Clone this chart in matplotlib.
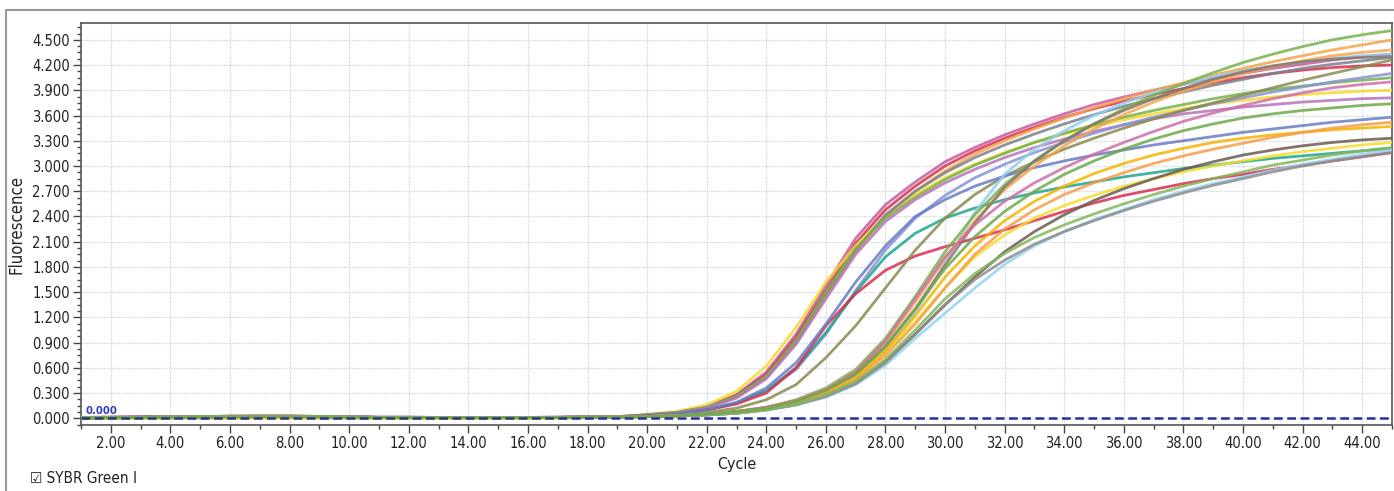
import matplotlib
matplotlib.use('Agg')
import matplotlib.pyplot as plt
from matplotlib.ticker import MultipleLocator, FormatStrFormatter
from matplotlib.patches import Rectangle

plt.rcParams['font.family'] = ['DejaVu Sans']
plt.rcParams['font.stretch'] = 'condensed'

# cycles 1..45
cycles = list(range(1, 46))

# baseline readings, cycles 1..19
base_a = [0.010, 0.012, 0.015, 0.020, 0.020, 0.024, 0.025, 0.025, 0.022, 0.016,
          0.012, 0.012, 0.010, 0.010, 0.010, 0.010, 0.012, 0.015, 0.020]
base_b = [0.006, 0.008, 0.010, 0.014, 0.016, 0.018, 0.020, 0.020, 0.018, 0.012,
          0.010, 0.008, 0.008, 0.008, 0.008, 0.008, 0.010, 0.012, 0.015]
base_y = [0.000, 0.000, 0.002, 0.004, 0.004, 0.005, 0.006, 0.006, 0.005, 0.003,
          0.002, 0.002, 0.002, 0.002, 0.002, 0.002, 0.004, 0.006, 0.010]

# amplification readings, cycles 20..45  (name, colour, baseline, values)
curves = [
    # early group
    ('A1', '#c65aa2', base_a, [0.04, 0.07, 0.14, 0.28, 0.55, 1.00, 1.58, 2.14, 2.54, 2.81, 3.05, 3.22, 3.37,
                               3.50, 3.62, 3.73, 3.82, 3.90, 3.97, 4.04, 4.10, 4.16, 4.21, 4.26, 4.30, 4.33]),
    ('A2', '#d8304c', base_a, [0.04, 0.07, 0.13, 0.27, 0.52, 0.96, 1.52, 2.08, 2.48, 2.76, 3.00, 3.18, 3.33,
                               3.46, 3.58, 3.68, 3.77, 3.85, 3.92, 3.99, 4.05, 4.10, 4.14, 4.17, 4.19, 4.20]),
    ('A3', '#f6d92c', base_y, [0.05, 0.08, 0.16, 0.32, 0.62, 1.08, 1.62, 2.05, 2.40, 2.66, 2.86, 3.02, 3.16,
                               3.28, 3.38, 3.47, 3.55, 3.62, 3.68, 3.74, 3.78, 3.82, 3.85, 3.87, 3.89, 3.90]),
    ('A4', '#f5a24c', base_a, [0.04, 0.07, 0.13, 0.25, 0.48, 0.90, 1.45, 1.98, 2.40, 2.70, 2.94, 3.14, 3.30,
                               3.44, 3.57, 3.69, 3.80, 3.90, 3.99, 4.08, 4.16, 4.24, 4.31, 4.38, 4.44, 4.50]),
    ('A5', '#7d7f8c', base_b, [0.04, 0.07, 0.13, 0.26, 0.50, 0.92, 1.48, 2.00, 2.42, 2.70, 2.92, 3.10, 3.25,
                               3.38, 3.50, 3.61, 3.71, 3.80, 3.88, 3.96, 4.03, 4.10, 4.16, 4.21, 4.25, 4.29]),
    ('A6', '#76b24a', base_b, [0.04, 0.07, 0.13, 0.26, 0.50, 0.93, 1.50, 2.02, 2.38, 2.63, 2.84, 3.01, 3.15,
                               3.28, 3.39, 3.49, 3.58, 3.66, 3.73, 3.80, 3.86, 3.91, 3.95, 3.99, 4.02, 4.05]),
    ('A7', '#b872bb', base_b, [0.04, 0.06, 0.12, 0.24, 0.47, 0.88, 1.42, 1.95, 2.34, 2.60, 2.80, 2.96, 3.10,
                               3.22, 3.32, 3.41, 3.49, 3.56, 3.62, 3.66, 3.70, 3.73, 3.76, 3.78, 3.80, 3.81]),
    # middle group
    ('B1', '#8793d4', base_a, [0.03, 0.05, 0.10, 0.18, 0.33, 0.58, 1.00, 1.52, 2.00, 2.38, 2.65, 2.86, 3.02,
                               3.16, 3.28, 3.39, 3.49, 3.58, 3.66, 3.74, 3.81, 3.88, 3.94, 4.00, 4.05, 4.10]),
    ('B2', '#1fa68f', base_b, [0.03, 0.05, 0.10, 0.18, 0.33, 0.60, 1.02, 1.50, 1.92, 2.20, 2.38, 2.50, 2.60,
                               2.68, 2.75, 2.81, 2.87, 2.92, 2.97, 3.01, 3.05, 3.09, 3.12, 3.15, 3.18, 3.21]),
    ('B3', '#d92f50', base_a, [0.03, 0.05, 0.10, 0.17, 0.30, 0.60, 1.10, 1.48, 1.76, 1.93, 2.04, 2.14, 2.24,
                               2.35, 2.46, 2.56, 2.65, 2.72, 2.79, 2.85, 2.90, 2.96, 3.01, 3.06, 3.11, 3.16]),
    ('B4', '#8c8a50', base_b, [0.02, 0.04, 0.07, 0.12, 0.22, 0.40, 0.72, 1.10, 1.55, 2.00, 2.38, 2.66, 2.88,
                               3.05, 3.20, 3.33, 3.45, 3.56, 3.66, 3.75, 3.84, 3.93, 4.02, 4.10, 4.18, 4.26]),
    ('B5', '#6a7cc6', base_b, [0.03, 0.05, 0.10, 0.19, 0.36, 0.66, 1.12, 1.62, 2.05, 2.40, 2.60, 2.76, 2.88,
                               2.98, 3.06, 3.13, 3.19, 3.25, 3.30, 3.35, 3.40, 3.44, 3.48, 3.52, 3.55, 3.58]),
    # late group
    ('C1', '#90d0f0', base_b, [0.02, 0.03, 0.05, 0.08, 0.13, 0.20, 0.32, 0.50, 0.80, 1.25, 1.85, 2.45, 2.90,
                               3.20, 3.42, 3.60, 3.75, 3.87, 3.97, 4.06, 4.13, 4.19, 4.24, 4.28, 4.31, 4.33]),
    ('C2', '#78b44a', base_b, [0.02, 0.03, 0.05, 0.08, 0.13, 0.22, 0.36, 0.58, 0.95, 1.45, 1.98, 2.42, 2.78,
                               3.06, 3.30, 3.50, 3.68, 3.84, 3.98, 4.11, 4.23, 4.33, 4.42, 4.50, 4.56, 4.61]),
    ('C3', '#f7a650', base_b, [0.02, 0.03, 0.05, 0.08, 0.13, 0.21, 0.34, 0.55, 0.90, 1.38, 1.90, 2.35, 2.72,
                               3.00, 3.24, 3.44, 3.61, 3.76, 3.89, 4.00, 4.10, 4.18, 4.25, 4.31, 4.35, 4.38]),
    ('C4', '#857868', base_b, [0.02, 0.03, 0.05, 0.08, 0.12, 0.20, 0.32, 0.52, 0.85, 1.30, 1.82, 2.32, 2.75,
                               3.06, 3.30, 3.50, 3.66, 3.80, 3.92, 4.03, 4.12, 4.19, 4.24, 4.27, 4.29, 4.30]),
    ('C5', '#cf6ea8', base_b, [0.02, 0.03, 0.05, 0.08, 0.13, 0.21, 0.34, 0.55, 0.92, 1.42, 1.92, 2.30, 2.58,
                               2.80, 2.98, 3.14, 3.28, 3.41, 3.53, 3.63, 3.72, 3.80, 3.87, 3.93, 3.97, 4.00]),
    ('C6', '#f5dc30', base_y, [0.02, 0.03, 0.04, 0.07, 0.11, 0.18, 0.30, 0.48, 0.78, 1.15, 1.55, 1.92, 2.18,
                               2.38, 2.53, 2.65, 2.76, 2.85, 2.93, 3.00, 3.06, 3.12, 3.17, 3.21, 3.25, 3.28]),
    ('C7', '#f6b400', base_y, [0.02, 0.03, 0.04, 0.07, 0.11, 0.18, 0.30, 0.48, 0.80, 1.22, 1.68, 2.05, 2.35,
                               2.58, 2.76, 2.91, 3.03, 3.13, 3.21, 3.28, 3.33, 3.37, 3.40, 3.43, 3.45, 3.47]),
    ('C8', '#f59e48', base_b, [0.02, 0.03, 0.04, 0.07, 0.11, 0.18, 0.29, 0.46, 0.75, 1.12, 1.55, 1.95, 2.25,
                               2.48, 2.66, 2.80, 2.92, 3.03, 3.12, 3.20, 3.27, 3.34, 3.40, 3.45, 3.49, 3.52]),
    ('C9', '#6b5b52', base_b, [0.02, 0.03, 0.04, 0.06, 0.10, 0.16, 0.26, 0.42, 0.68, 1.00, 1.35, 1.68, 1.98,
                               2.22, 2.42, 2.59, 2.73, 2.85, 2.96, 3.05, 3.13, 3.19, 3.24, 3.28, 3.31, 3.33]),
    ('C10', '#94d3f0', base_b, [0.02, 0.03, 0.04, 0.06, 0.10, 0.16, 0.25, 0.40, 0.63, 0.95, 1.25, 1.55, 1.83,
                                2.05, 2.22, 2.36, 2.48, 2.60, 2.70, 2.79, 2.87, 2.95, 3.02, 3.08, 3.14, 3.19]),
    ('C11', '#8e8e8e', base_b, [0.02, 0.03, 0.04, 0.06, 0.10, 0.16, 0.26, 0.41, 0.66, 1.00, 1.35, 1.65, 1.88,
                                2.07, 2.22, 2.35, 2.47, 2.58, 2.68, 2.77, 2.85, 2.93, 3.00, 3.06, 3.11, 3.16]),
    ('C12', '#86b85a', base_b, [0.02, 0.03, 0.04, 0.06, 0.10, 0.17, 0.28, 0.44, 0.70, 1.05, 1.42, 1.72, 1.96,
                                2.15, 2.30, 2.43, 2.55, 2.66, 2.76, 2.85, 2.93, 3.01, 3.07, 3.13, 3.18, 3.22]),
    ('C13', '#6fa84a', base_b, [0.02, 0.03, 0.05, 0.08, 0.12, 0.20, 0.33, 0.53, 0.86, 1.30, 1.78, 2.16, 2.46,
                                2.70, 2.90, 3.06, 3.20, 3.32, 3.42, 3.50, 3.57, 3.62, 3.66, 3.69, 3.72, 3.74]),
]

threshold = 0.0

fig = plt.figure(figsize=(13.94, 4.91), dpi=100)
ax = fig.add_axes([81 / 1394, 1 - 425 / 491, (1392 - 81) / 1394, (425 - 23) / 491])

for name, color, base, vals in curves:
    ax.plot(cycles, base + vals, color=color, lw=2.0, alpha=0.85, solid_joinstyle='round', zorder=3)

ax.axhline(threshold, color='#2b2f9c', lw=1.8, ls=(0, (3.5, 1.8)), zorder=5)
ax.text(1.15, threshold + 0.03, '%.3f' % threshold, color='#2b3fbf', fontsize=8,
        fontweight='bold', va='bottom', ha='left', zorder=6)

ax.set_xlim(1, 45)
ax.set_ylim(-0.08, 4.70)

ax.xaxis.set_major_locator(MultipleLocator(2))
ax.xaxis.set_minor_locator(MultipleLocator(1))
ax.xaxis.set_major_formatter(FormatStrFormatter('%.2f'))
ax.set_xticks([x for x in range(2, 45, 2)])
ax.yaxis.set_major_locator(MultipleLocator(0.3))
ax.yaxis.set_minor_locator(MultipleLocator(0.075))
ax.yaxis.set_major_formatter(FormatStrFormatter('%.3f'))
ax.set_yticks([i * 0.3 for i in range(16)])

ax.tick_params(axis='both', which='major', length=6, width=1, color='#444444',
               labelsize=10.5, labelcolor='#222222', pad=2)
ax.tick_params(axis='both', which='minor', length=3, width=1, color='#444444')

ax.grid(True, which='major', color='#cdd2d8', lw=0.9, ls=(0, (1, 1)), zorder=0)
for side in ax.spines.values():
    side.set_color('#555555')
    side.set_linewidth(1.2)

ax.set_ylabel('Fluorescence', fontsize=12, color='#222222', labelpad=5)
ax.set_xlabel('Cycle', fontsize=11.5, color='#222222', labelpad=4)

fig.text(30 / 1394, 1 - 478 / 491, '\u2611 SYBR Green I', fontsize=11, color='#222222',
         va='center', ha='left')

fig.patches.append(Rectangle((6 / 1394, -0.05), 1.2, 1 - 10 / 491 + 0.05, transform=fig.transFigure,
                             fill=False, edgecolor='#999999', lw=1.5))

fig.savefig('out.png', dpi=100)
